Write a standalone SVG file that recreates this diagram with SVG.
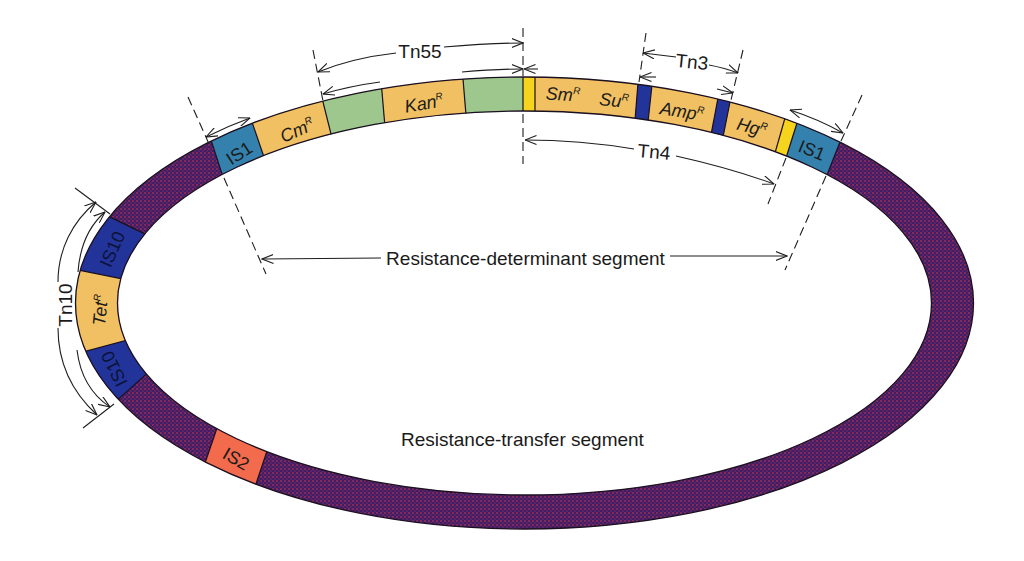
<svg xmlns="http://www.w3.org/2000/svg" width="1024" height="561" viewBox="0 0 1024 561">
<style>
.edge{fill:none;stroke:#1b1020;stroke-width:1.3}
.bl{stroke:#1b1020;stroke-width:1.2}
.dim{fill:none;stroke:#1e1e1e;stroke-width:1.1}
.dash{fill:none;stroke:#1e1e1e;stroke-width:1.1;stroke-dasharray:9 5}
.lbl{font-family:"Liberation Sans",Arial,sans-serif;font-size:18px;fill:#1a1a1a;text-anchor:middle}
.it{font-style:italic}
.lbl.dk{fill:#0c1236}
.big{font-family:"Liberation Sans",Arial,sans-serif;font-size:19px;fill:#1a1a1a}
.or{fill:#f1c062}
.gr{fill:#9dc78c}
.ye{fill:#f6d31c}
.is1{fill:#3581ad}
.nv{fill:#22349a}
</style>
<defs>
<pattern id="purp" width="4" height="4" patternUnits="userSpaceOnUse">
<rect width="4" height="4" fill="#3e1e66"/>
<circle cx="1" cy="1" r="1.1" fill="#8c2a58"/>
<circle cx="3" cy="3" r="0.9" fill="#6e2560"/>
</pattern>
<clipPath id="ring"><path clip-rule="evenodd" d="M75.5,303 a449,226 0 1,0 898,0 a449,226 0 1,0 -898,0 Z M117.5,303 a407,192 0 1,0 814,0 a407,192 0 1,0 -814,0 Z"/></clipPath>
<marker id="ah" viewBox="0 0 12 10" refX="11.5" refY="5" markerWidth="12" markerHeight="10" markerUnits="userSpaceOnUse" orient="auto-start-reverse"><path d="M0,0.5 L11.5,5 L0,9.5" fill="none" stroke="#1e1e1e" stroke-width="1.1"/></marker>
</defs>
<rect width="1024" height="561" fill="#ffffff"/>

<g id="plasmid-ring">
<path d="M75.5,303 a449,226 0 1,0 898,0 a449,226 0 1,0 -898,0 Z M117.5,303 a407,192 0 1,0 814,0 a407,192 0 1,0 -814,0 Z" fill="url(#purp)" fill-rule="evenodd"/>
</g>

<g clip-path="url(#ring)">
<g id="seg-is1-left"><polygon class="is1" points="205.4,122.6 245.8,104 272.2,181 229.6,197.4"/></g>
<g id="seg-cm"><polygon class="or" points="245.8,104 317.6,80.4 337.4,159.6 272.2,181"/></g>
<g id="seg-green1"><polygon class="gr" points="317.6,80.4 380.2,71 386.8,148 337.4,159.6"/></g>
<g id="seg-kan"><polygon class="or" points="380.2,71 461.2,57.4 467.8,136.6 386.8,148"/></g>
<g id="seg-green2"><polygon class="gr" points="461.2,57.4 523,53.8 523,135.2 467.8,136.6"/></g>
<g id="seg-yellow1"><polygon class="ye" points="523,53.8 535,53.8 535,135.2 523,135.2"/></g>
<g id="seg-smsu"><polygon class="or" points="535,53.8 639.8,60.8 633.2,142.2 535,135.2"/></g>
<g id="seg-ir1"><polygon class="nv" points="639.8,60.8 654.4,62.8 645.6,144.2 633.2,142.2"/></g>
<g id="seg-amp"><polygon class="or" points="654.4,62.8 722.2,75.8 706.8,157.2 645.6,144.2"/></g>
<g id="seg-ir2"><polygon class="nv" points="722.2,75.8 734.2,81 718.8,158 706.8,157.2"/></g>
<g id="seg-hg"><polygon class="or" points="734.2,81 791,97 769,174 718.8,158"/></g>
<g id="seg-yellow2"><polygon class="ye" points="791,97 803.6,102 779.4,179 769,174"/></g>
<g id="seg-is1-right"><polygon class="is1" points="803.6,102 847.8,122.2 819.2,194.8 779.4,179"/></g>
<g id="seg-is10-top"><polygon class="nv" points="90.2,207.4 54,265.2 142,282.8 162.8,242.6"/></g>
<g id="seg-tet"><polygon class="or" points="54,265.2 60.8,358 142.2,336 142,282.8"/></g>
<g id="seg-is10-bottom"><polygon class="nv" points="60.8,358 98.8,416.4 158.2,363.6 142.2,336"/></g>
<g id="seg-is2"><polygon fill="#f26b4d" points="197.8,484 249,505 271,439 224.2,407"/></g>
<g id="boundaries">
<line class="bl" x1="205.4" y1="122.6" x2="229.6" y2="197.4"/>
<line class="bl" x1="245.8" y1="104" x2="272.2" y2="181"/>
<line class="bl" x1="317.6" y1="80.4" x2="337.4" y2="159.6"/>
<line class="bl" x1="380.2" y1="71" x2="386.8" y2="148"/>
<line class="bl" x1="461.2" y1="57.4" x2="467.8" y2="136.6"/>
<line class="bl" x1="523" y1="53.8" x2="523" y2="135.2"/>
<line class="bl" x1="535" y1="53.8" x2="535" y2="135.2"/>
<line class="bl" x1="639.8" y1="60.8" x2="633.2" y2="142.2"/>
<line class="bl" x1="654.4" y1="62.8" x2="645.6" y2="144.2"/>
<line class="bl" x1="722.2" y1="75.8" x2="706.8" y2="157.2"/>
<line class="bl" x1="734.2" y1="81" x2="718.8" y2="158"/>
<line class="bl" x1="791" y1="97" x2="769" y2="174"/>
<line class="bl" x1="803.6" y1="102" x2="779.4" y2="179"/>
<line class="bl" x1="847.8" y1="122.2" x2="819.2" y2="194.8"/>
<line class="bl" x1="90.2" y1="207.4" x2="162.8" y2="242.6"/>
<line class="bl" x1="54" y1="265.2" x2="142" y2="282.8"/>
<line class="bl" x1="60.8" y1="358" x2="142.2" y2="336"/>
<line class="bl" x1="98.8" y1="416.4" x2="158.2" y2="363.6"/>
<line class="bl" x1="197.8" y1="484" x2="224.2" y2="407"/>
<line class="bl" x1="249" y1="505" x2="271" y2="439"/>
</g>
</g>
<ellipse class="edge" cx="524.5" cy="303" rx="449" ry="226"/>
<ellipse class="edge" cx="524.5" cy="303" rx="407" ry="192"/>

<g id="labels">
<text class="lbl" transform="translate(239,153) rotate(-33)" y="6.5">IS1</text>
<text class="lbl it" transform="translate(297,130) rotate(-24)" y="6.5">Cm<tspan font-size="10" dy="-7">R</tspan></text>
<text class="lbl it" transform="translate(424,103) rotate(-10)" y="6.5">Kan<tspan font-size="10" dy="-7">R</tspan></text>
<text class="lbl it" transform="translate(563,94) rotate(3)" y="6.5">Sm<tspan font-size="10" dy="-7">R</tspan></text>
<text class="lbl it" transform="translate(614,100) rotate(6)" y="6.5">Su<tspan font-size="10" dy="-7">R</tspan></text>
<text class="lbl it" transform="translate(682,111) rotate(9)" y="6.5">Amp<tspan font-size="10" dy="-7">R</tspan></text>
<text class="lbl it" transform="translate(752,127) rotate(15)" y="6.5">Hg<tspan font-size="10" dy="-7">R</tspan></text>
<text class="lbl" transform="translate(812,150) rotate(22)" y="6.5">IS1</text>
<text class="lbl dk" style="fill:#0c1236" transform="translate(112,249) rotate(-66)" y="6.5">IS10</text>
<text class="lbl it" transform="translate(100,310) rotate(-85)" y="6.5">Tet<tspan font-size="10" dy="-7">R</tspan></text>
<text class="lbl dk" style="fill:#0c1236" transform="translate(114,369) rotate(-116)" y="6.5">IS10</text>
<text class="lbl" font-size="17" transform="translate(236,459) rotate(30)" y="6">IS2</text>
<text class="big" x="420" y="58" text-anchor="middle">Tn55</text>
<text class="big" transform="translate(692,62) rotate(6)" y="6.5" text-anchor="middle">Tn3</text>
<text class="big" transform="translate(654,152) rotate(5)" y="6.5" text-anchor="middle">Tn4</text>
<text class="big" transform="translate(65,305) rotate(-90)" y="7" text-anchor="middle">Tn10</text>
<text class="big" x="525.5" y="265" text-anchor="middle">Resistance-determinant segment</text>
<text class="big" x="401" y="446">Resistance-transfer segment</text>
</g>

<g id="connectors">
<path class="dash" d="M188,97 L209,144"/>
<path class="dash" d="M224,178 L266,274"/>
<path class="dash" d="M313,50 L323,101"/>
<path class="dash" d="M523,28 L523,76"/>
<path class="dash" d="M523,114 L523,164"/>
<path class="dash" d="M646,33 L639,82"/>
<path class="dash" d="M743,50 L731,100"/>
<path class="dash" d="M786,158 L768,204"/>
<path class="dash" d="M862,95 L841,141"/>
<path class="dash" d="M826,176 L785,270"/>

<path class="dim" d="M396,53 Q352,58 318,72" marker-end="url(#ah)"/>
<path class="dim" d="M444,47 Q490,43 523,43" marker-end="url(#ah)"/>
<path class="dim" d="M380,82 Q350,86 323,94" marker-end="url(#ah)"/>
<path class="dim" d="M462,72 Q495,69 523,69" marker-end="url(#ah)"/>
<path class="dim" d="M538,69 L524,69" marker-end="url(#ah)"/>
<path class="dim" d="M206,137 Q228,126 250,118" marker-start="url(#ah)" marker-end="url(#ah)"/>
<path class="dim" d="M676,57 Q660,55 643,53" marker-end="url(#ah)"/>
<path class="dim" d="M709,65 Q725,68 738,73" marker-end="url(#ah)"/>
<path class="dim" d="M656,77 L640,77" marker-end="url(#ah)"/>
<path class="dim" d="M717,89 L733,93" marker-end="url(#ah)"/>
<path class="dim" d="M634,149 Q580,140 525,140" marker-end="url(#ah)"/>
<path class="dim" d="M676,156 Q730,168 774,184" marker-end="url(#ah)"/>
<path class="dim" d="M790,110 Q818,119 843,133" marker-start="url(#ah)" marker-end="url(#ah)"/>
<path class="dim" d="M381,258 L262,259" marker-end="url(#ah)"/>
<path class="dim" d="M670,256 L787,256" marker-end="url(#ah)"/>
<path class="dim" d="M58,282 C58,250 72,222 96,202" marker-end="url(#ah)"/>
<path class="dim" d="M58,328 C58,362 72,392 97,415" marker-end="url(#ah)"/>
<path class="dim" d="M78,272 C80,245 90,225 105,212" marker-end="url(#ah)"/>
<path class="dim" d="M77,350 C80,375 92,395 110,407" marker-end="url(#ah)"/>
<path class="dim" d="M75,188 L110,214"/>
<path class="dim" d="M83,428 L114,404"/>
</g>
</svg>
